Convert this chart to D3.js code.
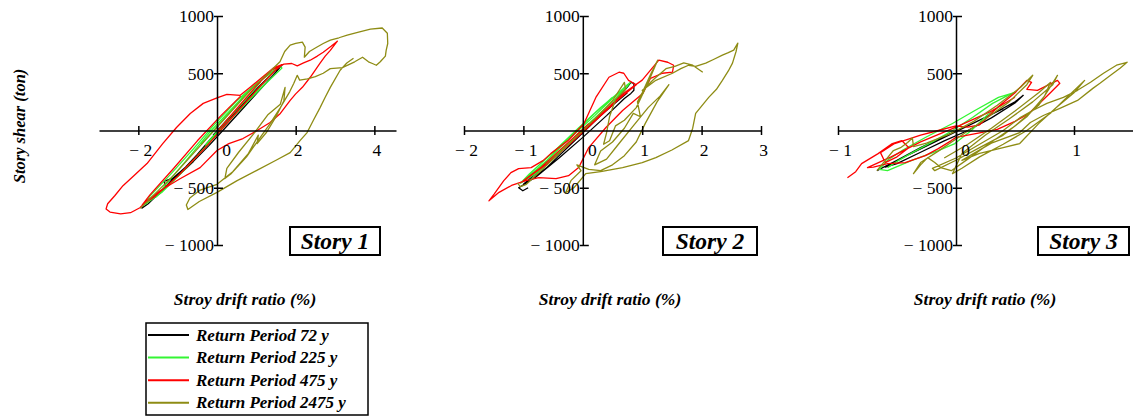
<!DOCTYPE html>
<html>
<head>
<meta charset="utf-8">
<script src="https://cdn.jsdelivr.net/npm/d3@7"></script>
<style>
  html, body { margin: 0; padding: 0; background: #ffffff; }
  svg { display: block; font-family: "Liberation Serif", "Times New Roman", serif; }
</style>
</head>
<body>
<svg id="chart" width="1133" height="416"></svg>
<script>
// ---- Series / labels ----
const seriesNames  = ["Return Period 72 y", "Return Period 225 y", "Return Period 475 y", "Return Period 2475 y"];
const seriesColors = ["#000000", "#33f533", "#ff0000", "#8e8c14"];
const storyNames   = ["Story 1", "Story 2", "Story 3"];
const yTitle = "Story shear (ton)";
const xTitle = "Stroy drift ratio (%)";

// ---- Tick values ----
const yTickValues  = [-1000, -500, 500, 1000];
const xTicksStory1 = [-2, 0, 2, 4];
const xTicksStory2 = [-2, -1, 0, 1, 2, 3];
const xTicksStory3 = [-1, 0, 1];

// ---- Hysteresis traces: [drift ratio (%), story shear (ton)] ----
// Story 1
const story1_72 = [[-1.92,-680],[-1.75,-640],[-1.6,-590],[-1.42,-540],[-1.25,-470],[-1.0,-390],[-0.8,-330],[-0.6,-250],[-0.4,-175],[-0.2,-90],[0.2,60],[0.6,210],[1.0,360],[1.35,480],[1.62,565],[1.66,575],[1.5,510],[1.1,360],[0.6,170],[0.2,20],[-0.2,-130],[-0.6,-270],[-1.0,-400],[-1.35,-445],[-1.3,-490],[-1.1,-410],[-0.8,-320],[-0.5,-210],[-0.15,-70],[0.25,80],[0.6,210],[0.3,110],[-0.1,-40]];
const story1_225 = [[-0.4,-120],[0.2,110],[0.7,300],[1.2,470],[1.6,560],[1.65,545],[1.3,430],[0.8,260],[0.3,80],[-0.3,-150],[-0.9,-370],[-1.4,-540],[-1.85,-650],[-1.7,-570],[-1.2,-390],[-0.6,-160],[-0.1,40],[0.5,260],[1.0,410],[1.45,520],[1.2,420],[0.7,230],[0.1,10],[-0.5,-220],[-1.1,-440],[-1.55,-580],[-1.3,-470],[-0.8,-270],[-0.2,-20],[0.4,200],[0.9,380],[1.1,420],[0.7,260],[0.2,70],[-0.3,-130]];
const story1_475 = [[0,-10],[0.5,190],[1.0,390],[1.4,530],[1.7,580],[1.9,585],[2.04,565],[2.2,590],[2.37,614],[2.55,650],[2.7,684],[2.9,735],[3.06,780],[2.88,700],[2.75,650],[2.62,588],[2.37,465],[2.17,377],[2.0,320],[1.86,263],[1.61,149],[1.35,70],[1.02,0],[0.66,-70],[0.3,-115],[0,-175],[-0.43,-324],[-0.94,-421],[-1.45,-526],[-1.78,-614],[-1.96,-675],[-2.2,-718],[-2.45,-728],[-2.72,-712],[-2.82,-685],[-2.78,-640],[-2.6,-570],[-2.39,-482],[-2.1,-390],[-1.78,-289],[-1.38,-114],[-1.03,26],[-0.68,149],[-0.35,237],[0,285],[0.25,316],[0.59,307],[0.85,380],[1.15,465],[1.45,550],[1.65,575],[1.45,515],[1.0,350],[0.4,120],[-0.3,-150],[-1.0,-400],[-1.6,-580],[-1.9,-650],[-1.7,-560],[-1.1,-330],[-0.5,-90],[0.1,130],[0.6,300]];
const story1_2475 = [[-1.95,-680],[-1.6,-560],[-1.1,-390],[-0.6,-200],[-0.1,-10],[0.4,180],[0.9,370],[1.3,500],[1.6,600],[1.72,690],[1.86,745],[2.0,760],[2.17,772],[2.24,728],[2.22,640],[2.35,690],[2.5,720],[2.7,760],[2.88,790],[3.1,810],[3.31,833],[3.6,860],[3.9,886],[4.2,895],[4.33,850],[4.34,760],[4.3,700],[4.28,650],[4.15,600],[4.05,570],[3.95,585],[3.85,600],[3.7,640],[3.5,600],[3.35,575],[3.2,550],[2.88,540],[2.7,500],[2.5,470],[2.3,450],[2.1,440],[2.04,482],[1.95,410],[1.85,340],[1.61,200],[1.35,60],[1.1,-60],[0.75,-230],[0.35,-380],[0.2,-420],[0.25,-330],[0.55,-190],[0.95,-20],[1.3,140],[1.61,230],[1.73,377],[1.7,260],[1.5,120],[1.25,-20],[1.02,-114],[1.05,-40],[0.8,-200],[0.4,-360],[0,-470],[-0.43,-520],[-0.69,-590],[-0.78,-650],[-0.74,-690],[-0.45,-620],[0,-540],[0.5,-440],[1.0,-350],[1.5,-260],[1.86,-193],[2.11,-88],[2.29,-18],[2.45,90],[2.62,200],[2.75,290],[2.88,377],[3.13,526],[3.3,590],[3.47,631]];

// Story 2
const story2_72 = [[-0.92,-500],[-1.01,-526],[-1.08,-500],[-0.95,-460],[-0.6,-320],[-0.2,-120],[0.2,80],[0.5,230],[0.75,380],[0.81,421],[0.86,412],[0.86,351],[0.81,324],[0.7,280],[0.4,130],[0,-60],[-0.4,-240],[-0.8,-410],[-1.0,-470],[-0.8,-380],[-0.4,-190],[0.1,40],[0.5,220],[0.75,330]];
const story2_225 = [[-1.0,-440],[-0.6,-260],[-0.2,-60],[0.2,130],[0.5,280],[0.75,400],[0.8,420],[0.7,350],[0.4,200],[0,0],[-0.4,-200],[-0.8,-380],[-1.05,-460],[-0.9,-380],[-0.5,-190],[-0.1,10],[0.3,200],[0.6,330],[0.7,370],[0.5,250],[0.1,60],[-0.3,-140],[-0.7,-320],[-0.9,-410],[-0.6,-260],[-0.2,-50],[0.2,150],[0.5,290]];
const story2_475 = [[-0.1,-40],[0.3,140],[0.7,330],[1.0,440],[1.28,614],[1.43,596],[1.53,570],[1.51,509],[1.34,500],[1.14,456],[1.01,324],[0.67,175],[0.39,26],[0.1,-149],[-0.07,-324],[-0.24,-395],[-0.45,-421],[-0.74,-412],[-0.96,-438],[-1.2,-480],[-1.41,-540],[-1.58,-614],[-1.49,-553],[-1.33,-438],[-1.21,-368],[-1.08,-333],[-0.87,-324],[-0.67,-263],[-0.54,-202],[-0.25,-88],[0.02,61],[0.22,289],[0.44,465],[0.61,509],[0.69,500],[0.77,438],[0.9,400],[0.6,270],[0.2,80],[-0.2,-110],[-0.6,-290],[-1.0,-440],[-0.7,-320],[-0.3,-130],[0.1,60]];
const story2_2475 = [[-1.1,-460],[-1.05,-490],[-0.95,-470],[-0.6,-300],[-0.2,-100],[0.2,100],[0.5,260],[0.7,420],[0.72,360],[0.55,270],[0.45,120],[0.4,-20],[0.35,-120],[0.45,-90],[0.55,40],[0.7,90],[0.9,200],[1.1,420],[1.26,614],[1.15,500],[1.0,330],[0.92,250],[0.97,120],[0.85,150],[0.7,20],[0.5,-100],[0.3,-180],[0.2,-300],[0.4,-250],[0.6,-120],[0.85,40],[1.1,200],[1.3,300],[1.45,400],[1.25,250],[1.05,60],[0.9,-100],[0.7,-220],[0.5,-300],[0.3,-350],[0.1,-340],[-0.1,-300],[-0.03,-351],[-0.2,-438],[-0.29,-544],[-0.15,-500],[0.05,-377],[0.3,-360],[0.67,-324],[1.0,-280],[1.23,-237],[1.5,-170],[1.78,-88],[1.85,20],[1.9,149],[2.12,289],[2.25,360],[2.35,438],[2.45,520],[2.52,588],[2.58,690],[2.61,763],[2.54,702],[2.45,680],[2.35,658],[2.2,620],[2.07,588],[1.9,560],[1.78,570],[1.65,540],[1.51,500],[1.23,438],[1.0,350],[1.2,450],[1.4,540],[1.55,560],[1.7,590],[1.85,570],[2.02,509]];

// Story 3
const story3_72 = [[-0.67,-351],[-0.5,-260],[-0.3,-150],[-0.1,-50],[0.1,40],[0.3,140],[0.5,250],[0.57,307],[0.5,240],[0.3,110],[0.1,0],[-0.1,-90],[-0.3,-190],[-0.5,-290],[-0.6,-320],[-0.4,-210],[-0.2,-110],[0,-10],[0.2,90],[0.4,190]];
const story3_225 = [[-0.58,-324],[-0.49,-263],[-0.37,-193],[-0.18,-88],[-0.03,0],[0.14,114],[0.31,237],[0.44,307],[0.5,333],[0.36,289],[0.16,175],[-0.03,61],[-0.26,-61],[-0.45,-170],[-0.58,-260],[-0.65,-340],[-0.58,-351],[-0.38,-263],[-0.15,-175],[-0.01,-114],[0.13,0],[0.27,140],[0.4,230]];
const story3_475 = [[-0.92,-412],[-0.85,-360],[-0.8,-289],[-0.66,-202],[-0.54,-114],[-0.46,-88],[-0.4,-150],[-0.5,-230],[-0.6,-280],[-0.64,-193],[-0.52,-114],[-0.39,-70],[-0.3,-40],[-0.15,0],[0,40],[0.1,30],[0.2,50],[0.35,200],[0.5,330],[0.6,438],[0.64,420],[0.6,360],[0.69,351],[0.86,438],[0.88,412],[0.8,330],[0.7,230],[0.62,150],[0.5,80],[0.35,10],[0.2,-20],[0,-60],[-0.04,-88],[-0.15,-158],[-0.26,-219],[-0.43,-280],[-0.58,-290],[-0.7,-320],[-0.75,-324],[-0.55,-230],[-0.3,-100],[0,30],[0.3,170],[0.5,290]];
const story3_2475 = [[-0.67,-351],[-0.58,-237],[-0.53,-175],[-0.47,-150],[-0.41,-105],[-0.37,-65],[-0.36,-140],[-0.25,-110],[-0.05,-30],[0.15,80],[0.35,220],[0.55,380],[0.65,482],[0.6,400],[0.45,250],[0.25,100],[0.05,-40],[-0.15,-180],[-0.3,-280],[-0.36,-377],[-0.3,-300],[-0.24,-237],[-0.18,-280],[-0.13,-324],[-0.04,-351],[0.1,-250],[0.3,-100],[0.5,40],[0.7,220],[0.86,482],[0.82,400],[0.65,250],[0.45,100],[0.25,-40],[0.05,-200],[-0.03,-377],[0.05,-330],[0.2,-230],[0.4,-120],[0.6,0],[0.8,150],[0.95,300],[1.09,438],[1.0,330],[0.85,200],[0.7,60],[0.54,-114],[0.4,-150],[0.2,-200],[0.05,-260],[0.3,-110],[0.54,-18],[0.63,70],[0.74,131],[0.88,193],[1.03,263],[1.16,368],[1.22,412],[1.31,482],[1.39,544],[1.45,596],[1.36,570],[1.25,500],[1.14,421],[1.03,351],[0.91,289],[0.77,237],[0.65,175],[0.54,110],[0.4,0],[0.2,-120],[0,-240],[-0.2,-330],[-0.18,-351],[0,-260],[0.2,-150],[0.4,-40],[0.6,120],[0.75,300],[0.8,420],[0.7,330],[0.5,170],[0.3,20],[0.1,-120],[-0.1,-240]];

// ---- Layout ----
const svg = d3.select("#chart");
const yScale = d3.scaleLinear().domain([-1000, 1000]).range([245, 16]);

const panels = [
  { xDomain: [-3, 4.55], xRange: [99, 396],   ticks: xTicksStory1, traces: [story1_72, story1_225, story1_475, story1_2475], box: [290, 227, 90, 28], titleX: 245 },
  { xDomain: [-2, 3],    xRange: [464, 761],  ticks: xTicksStory2, traces: [story2_72, story2_225, story2_475, story2_2475], box: [663, 227, 94, 28], titleX: 610 },
  { xDomain: [-1, 1.5],  xRange: [838, 1133], ticks: xTicksStory3, traces: [story3_72, story3_225, story3_475, story3_2475], box: [1038, 227, 91, 28], titleX: 985 }
];

const fmt = v => v < 0 ? "\u2212 " + Math.abs(v) : String(v);
const labelFont = "17.5px";
const titleStyle = sel => sel.attr("font-weight", "bold").attr("font-style", "italic");

panels.forEach((p, i) => {
  const xScale = d3.scaleLinear().domain(p.xDomain).range(p.xRange);
  const g = svg.append("g");
  const x0 = xScale(0), y0 = yScale(0);

  // hysteresis curves
  const line = d3.line().x(d => xScale(d[0])).y(d => yScale(d[1])).curve(d3.curveLinear);
  p.traces.forEach((tr, k) => {
    g.append("path")
      .attr("d", line(tr))
      .attr("fill", "none")
      .attr("stroke", seriesColors[k])
      .attr("stroke-width", 1.3)
      .attr("stroke-linejoin", "round");
  });

  // x axis through zero shear
  const xAxis = g.append("g")
    .attr("transform", `translate(0,${y0})`)
    .call(d3.axisBottom(xScale).tickValues(p.ticks).tickFormat(fmt).tickSizeOuter(0));
  xAxis.select(".domain").attr("stroke", "#000").attr("stroke-width", 1.5);
  xAxis.selectAll(".tick line").attr("y1", -4.5).attr("y2", 4.5).attr("stroke-width", 1.5);
  xAxis.selectAll(".tick text")
    .attr("y", 25).attr("dy", null)
    .attr("dx", d => d === 0 ? 9 : 2)
    .attr("font-size", labelFont)
    .attr("font-family", "Liberation Serif, serif")
    .attr("fill", "#000");

  // y axis through zero drift
  const yAxis = g.append("g")
    .attr("transform", `translate(${x0},0)`)
    .call(d3.axisLeft(yScale).tickValues(yTickValues).tickFormat(fmt).tickSizeOuter(0));
  yAxis.select(".domain").attr("stroke", "#000").attr("stroke-width", 1.5);
  yAxis.selectAll(".tick line").attr("x1", -3).attr("x2", 6).attr("stroke-width", 1.5);
  yAxis.selectAll(".tick text")
    .attr("x", -3).attr("dy", "0.34em")
    .attr("font-size", labelFont)
    .attr("font-family", "Liberation Serif, serif")
    .attr("fill", "#000");

  // story tag
  const [bx, by, bw, bh] = p.box;
  g.append("rect").attr("x", bx).attr("y", by).attr("width", bw).attr("height", bh)
    .attr("fill", "#fff").attr("stroke", "#000").attr("stroke-width", 2);
  g.append("text").attr("x", bx + bw / 2).attr("y", by + 21.5)
    .attr("text-anchor", "middle").attr("font-size", "23.5px")
    .call(titleStyle).text(storyNames[i]);

  // x title
  svg.append("text").attr("x", p.titleX).attr("y", 305)
    .attr("text-anchor", "middle").attr("font-size", "17.5px")
    .call(titleStyle).text(xTitle);
});

// y title
svg.append("text")
  .attr("transform", "translate(25,126) rotate(-90)")
  .attr("text-anchor", "middle").attr("font-size", "16.5px")
  .call(titleStyle).text(yTitle);

// legend
const legend = svg.append("g");
legend.append("rect").attr("x", 146).attr("y", 323).attr("width", 222).attr("height", 92)
  .attr("fill", "#fff").attr("stroke", "#000").attr("stroke-width", 1.5);
seriesNames.forEach((name, k) => {
  const ly = 335 + k * 22.6;
  legend.append("line").attr("x1", 148).attr("x2", 189).attr("y1", ly).attr("y2", ly)
    .attr("stroke", seriesColors[k]).attr("stroke-width", 2);
  legend.append("text").attr("x", 196).attr("y", ly + 5.5)
    .attr("font-size", "17px").call(titleStyle).text(name);
});
</script>
</body>
</html>
